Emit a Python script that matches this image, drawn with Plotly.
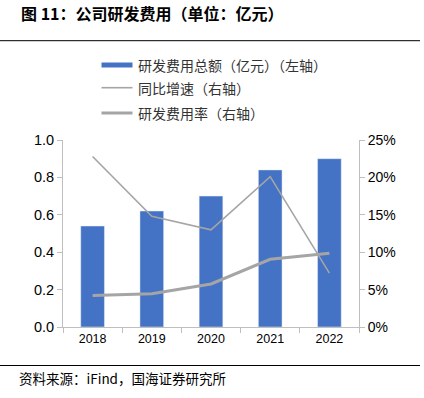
import plotly.graph_objects as go

years = ["2018", "2019", "2020", "2021", "2022"]
rd_expense = [0.54, 0.62, 0.70, 0.84, 0.90]          # 亿元, left axis
yoy_growth = [0.228, 0.148, 0.130, 0.201, 0.072]     # right axis
rd_rate = [0.042, 0.0445, 0.0575, 0.0905, 0.0985]    # right axis

W, H = 424, 398
L, R, T, B = 63, 359, 140, 327

def px(x):
    return (x - L) / (R - L)

def py(y):
    return (B - y) / (B - T)

BLUE = "#4472C4"
GRAY = "#A5A5A5"
AX = "#BFBFBF"
NUM_FONT = "Liberation Sans, Arial, sans-serif"
CJK_FONT = "Noto Sans CJK SC, sans-serif"

fig = go.Figure()
fig.add_trace(go.Bar(x=years, y=rd_expense, marker_color=BLUE, width=0.4,
                     name="研发费用总额（亿元）（左轴）", showlegend=False))
fig.add_trace(go.Scatter(x=years, y=yoy_growth, mode="lines", yaxis="y2",
                         line=dict(color=GRAY, width=1.6),
                         name="同比增速（右轴）", showlegend=False))
fig.add_trace(go.Scatter(x=years, y=rd_rate, mode="lines", yaxis="y2",
                         line=dict(color=GRAY, width=3),
                         name="研发费用率（右轴）", showlegend=False))

shapes = []
annotations = []

# title and rules
annotations.append(dict(text="<b>图 11：公司研发费用（单位：亿元）</b>", xref="paper", yref="paper",
                        x=px(19), y=py(13), xanchor="left", yanchor="middle", showarrow=False,
                        font=dict(family=CJK_FONT, size=16, color="#000000")))
shapes.append(dict(type="line", xref="paper", yref="paper", x0=px(0), x1=px(420),
                   y0=py(40.7), y1=py(40.7), line=dict(color="#000000", width=1)))
shapes.append(dict(type="line", xref="paper", yref="paper", x0=px(0), x1=px(420),
                   y0=py(365.5), y1=py(365.5), line=dict(color="#000000", width=1)))
annotations.append(dict(text="资料来源：iFind，国海证券研究所", xref="paper", yref="paper",
                        x=px(17), y=py(378), xanchor="left", yanchor="middle", showarrow=False,
                        font=dict(family=CJK_FONT, size=13.5, color="#000000")))

# custom legend
shapes.append(dict(type="rect", xref="paper", yref="paper", x0=px(101.5), x1=px(132.5),
                   y0=py(67.5), y1=py(62.5), fillcolor=BLUE, line=dict(width=0)))
shapes.append(dict(type="line", xref="paper", yref="paper", x0=px(101.5), x1=px(132.5),
                   y0=py(87.7), y1=py(87.7), line=dict(color=GRAY, width=1.6)))
shapes.append(dict(type="line", xref="paper", yref="paper", x0=px(101.5), x1=px(132.5),
                   y0=py(113), y1=py(113), line=dict(color=GRAY, width=3)))
for label, yy in [("研发费用总额（亿元）（左轴）", 65), ("同比增速（右轴）", 87.7), ("研发费用率（右轴）", 113)]:
    annotations.append(dict(text=label, xref="paper", yref="paper", x=px(136), y=py(yy),
                            xanchor="left", yanchor="middle", showarrow=False,
                            font=dict(family=CJK_FONT, size=14, color="#333333")))

fig.update_layout(
    width=W, height=H,
    margin=dict(l=L, r=W - R, t=T, b=H - B, pad=0),
    paper_bgcolor="white", plot_bgcolor="white",
    bargap=0.6,
    xaxis=dict(type="category", showline=True, linecolor=AX, linewidth=1,
               ticks="outside", tickson="boundaries", ticklen=5, tickcolor=AX,
               tickfont=dict(family=NUM_FONT, size=12.5, color="#000000"),
               showgrid=False, zeroline=False),
    yaxis=dict(range=[0, 1.0], dtick=0.2, tickformat=".1f", showline=True, linecolor=AX,
               linewidth=1, ticks="outside", ticklen=5, tickcolor=AX, showgrid=False,
               zeroline=False, tickfont=dict(family=NUM_FONT, size=14.5, color="#000000")),
    yaxis2=dict(range=[0, 0.25], dtick=0.05, tickformat=".0%", overlaying="y", side="right",
                showline=True, linecolor=AX, linewidth=1, ticks="outside", ticklen=5,
                tickcolor=AX, showgrid=False, zeroline=False,
                tickfont=dict(family=NUM_FONT, size=14, color="#000000")),
    shapes=shapes,
    annotations=annotations,
)

# remove the browser's default body margin so the figure starts at the page corner
fig.write_html("out.html", config={"displayModeBar": False},
               post_script="document.body.style.margin='0px';document.body.style.overflow='hidden';")
